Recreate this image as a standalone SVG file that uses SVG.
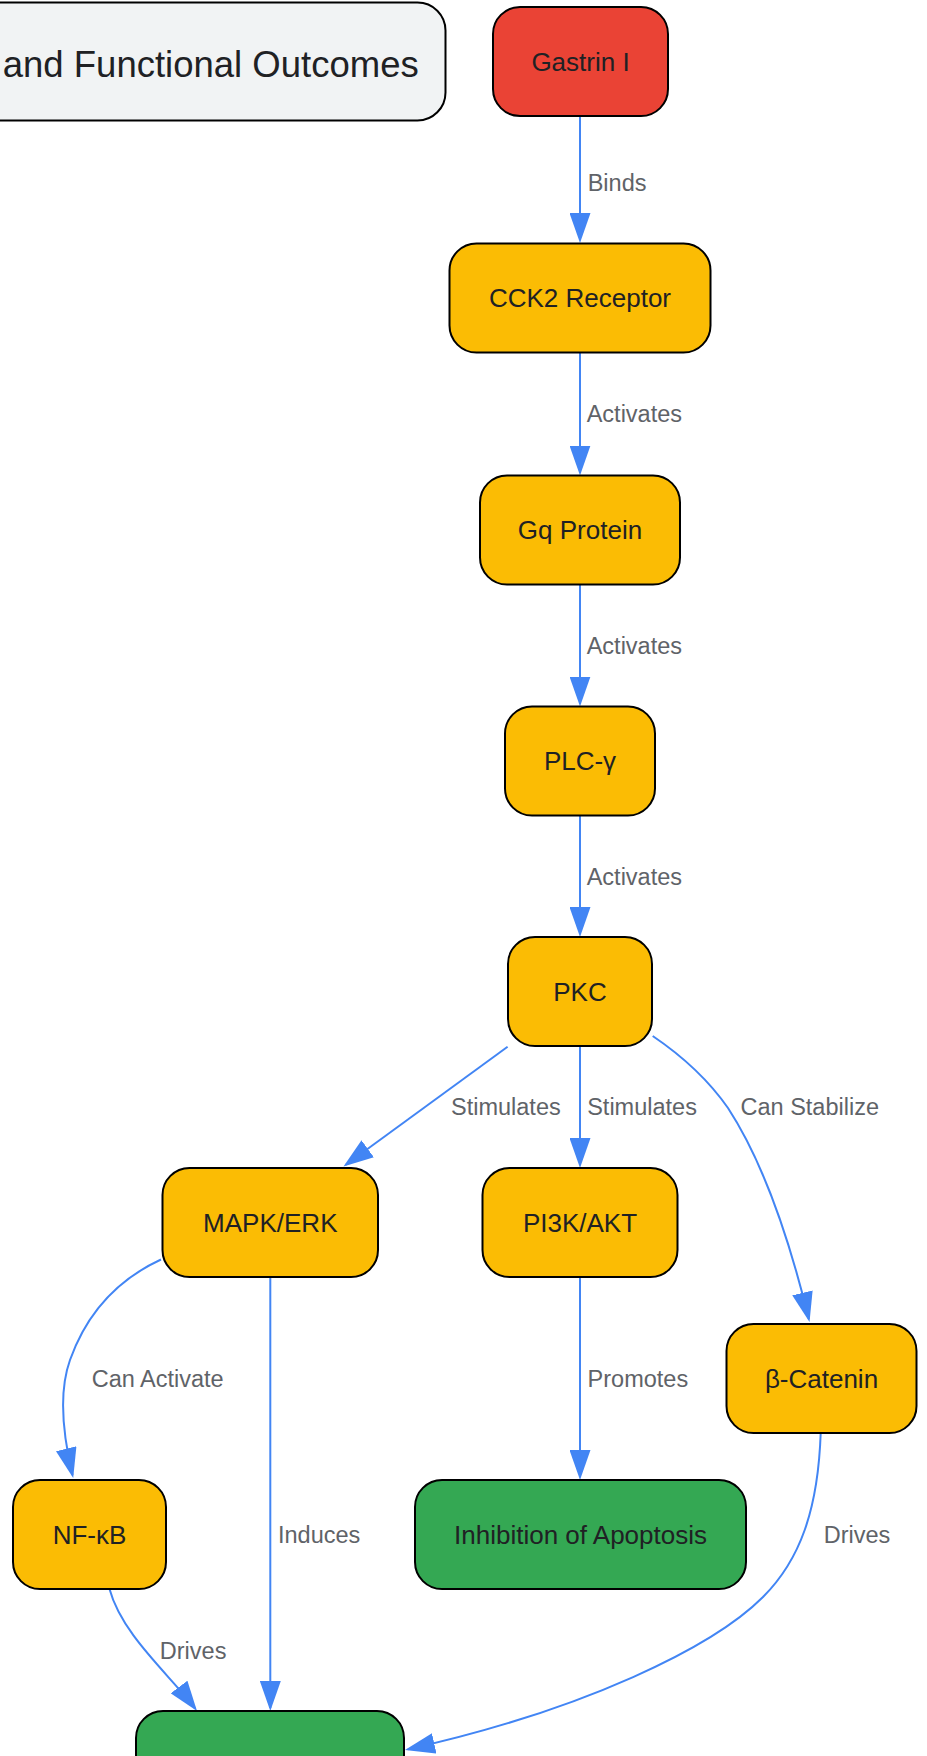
<svg xmlns="http://www.w3.org/2000/svg" width="927" height="1756" viewBox="0 0 927 1756">
<defs>
<marker id="arrow" markerUnits="userSpaceOnUse" viewBox="0 0 30 21" markerWidth="30" markerHeight="21" refX="27" refY="10.5" orient="auto">
<path d="M0,0 L30,10.5 L0,21 z" fill="#4285f4"/>
</marker>
<style>
.node rect{stroke:#000;stroke-width:2}
.y rect{fill:#fbbc04}
.r rect{fill:#ea4335}
.g rect{fill:#34a853}
.t rect{fill:#f1f3f4}
.node text{font-family:"Liberation Sans",Arial,sans-serif;font-size:26px;fill:#202124;text-anchor:middle}
.lbl{font-family:"Liberation Sans",Arial,sans-serif;font-size:23.5px;fill:#5f6368}
.edge{fill:none;stroke:#4285f4;stroke-width:2;marker-end:url(#arrow)}
</style>
</defs>
<rect width="927" height="1756" fill="#fff"/>
<g id="title" class="node t">
<rect x="-60" y="2.5" width="505.5" height="118" rx="28"/>
<text x="418.7" y="76.5" style="font-size:36.5px;text-anchor:end">and Functional Outcomes</text>
</g>
<g id="connectors">
<path class="edge" d="M580,116 L580,240"/>
<path class="edge" d="M580,352.5 L580,472.5"/>
<path class="edge" d="M580,584.5 L580,703.5"/>
<path class="edge" d="M580,815.5 L580,934"/>
<path class="edge" d="M580,1046 L580,1165"/>
<path class="edge" d="M580,1277 L580,1477"/>
<path class="edge" d="M270.3,1277 L270.3,1708"/>
<path class="edge" d="M507.6,1046.7 L345.9,1164.7"/>
<path class="edge" d="M652.7,1036 Q700,1068 728,1108 Q775,1180 808.8,1319.1"/>
<path class="edge" d="M161,1259.5 Q95,1290 70,1360 Q55,1402 72.5,1475"/>
<path class="edge" d="M109.5,1589 C122,1635 170,1675 195.2,1708.6"/>
<path class="edge" d="M820.7,1433 C818,1510 800,1560 763,1597 C713,1647 585,1709.7 407.9,1749.3"/>
<text class="lbl" x="587.7" y="191.2">Binds</text>
<text class="lbl" x="586.7" y="422.2">Activates</text>
<text class="lbl" x="586.7" y="653.7">Activates</text>
<text class="lbl" x="586.7" y="884.7">Activates</text>
<text class="lbl" x="451" y="1115.2">Stimulates</text>
<text class="lbl" x="587.2" y="1115.2">Stimulates</text>
<text class="lbl" x="740.5" y="1115.2">Can Stabilize</text>
<text class="lbl" x="91.7" y="1386.7">Can Activate</text>
<text class="lbl" x="587.6" y="1386.7">Promotes</text>
<text class="lbl" x="278" y="1542.7">Induces</text>
<text class="lbl" x="823.7" y="1542.7">Drives</text>
<text class="lbl" x="159.8" y="1659.2">Drives</text>
</g>
<g id="gastrin" class="node r"><rect x="493" y="7" width="175" height="109" rx="27"/><text x="580.5" y="70.5">Gastrin I</text></g>
<g id="cck2" class="node y"><rect x="449.5" y="243.5" width="261" height="109" rx="27"/><text x="580" y="307">CCK2 Receptor</text></g>
<g id="gq" class="node y"><rect x="480" y="475.5" width="200" height="109" rx="27"/><text x="580" y="539">Gq Protein</text></g>
<g id="plc" class="node y"><rect x="505" y="706.5" width="150" height="109" rx="27"/><text x="580" y="770">PLC-γ</text></g>
<g id="pkc" class="node y"><rect x="508" y="937" width="144" height="109" rx="27"/><text x="580" y="1000.5">PKC</text></g>
<g id="mapk" class="node y"><rect x="162.5" y="1168" width="215.5" height="109" rx="27"/><text x="270.3" y="1231.5">MAPK/ERK</text></g>
<g id="pi3k" class="node y"><rect x="482.5" y="1168" width="195" height="109" rx="27"/><text x="580" y="1231.5">PI3K/AKT</text></g>
<g id="beta" class="node y"><rect x="726.5" y="1324" width="190" height="109" rx="27"/><text x="821.5" y="1387.5">β-Catenin</text></g>
<g id="nfkb" class="node y"><rect x="13" y="1480" width="153" height="109" rx="27"/><text x="89.5" y="1543.5">NF-κB</text></g>
<g id="inhib" class="node g"><rect x="415" y="1480" width="331" height="109" rx="27"/><text x="580.5" y="1543.5">Inhibition of Apoptosis</text></g>
<g id="bottom" class="node g"><rect x="136" y="1711" width="268" height="109" rx="27"/></g>
</svg>
